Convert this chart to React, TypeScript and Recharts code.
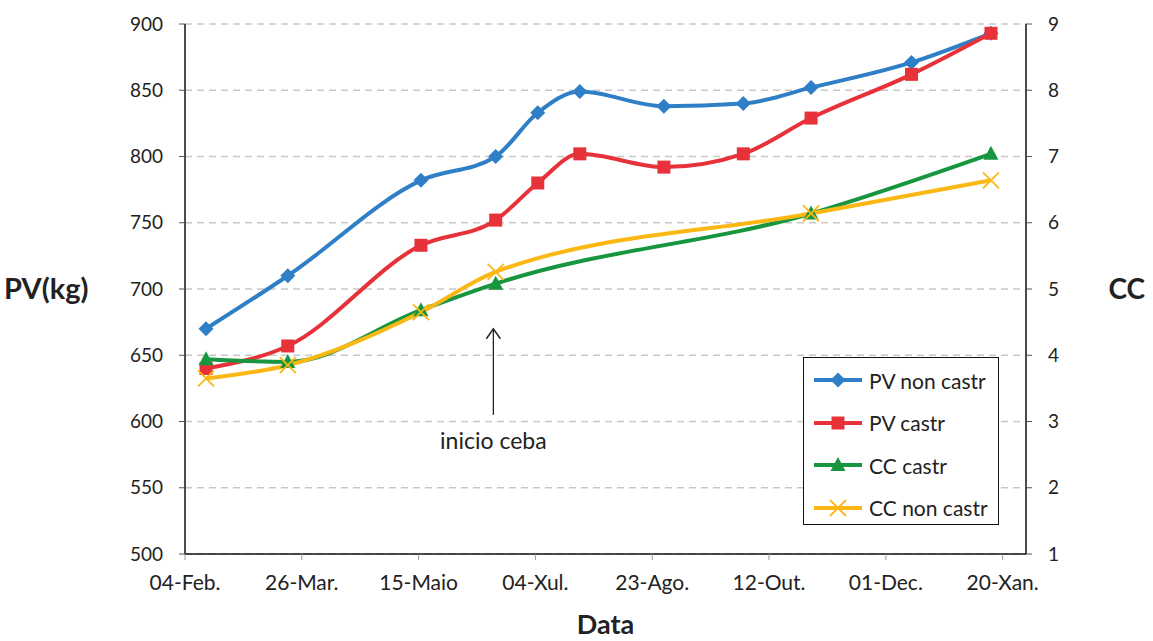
import React from "react";
import {
  LineChart,
  Line,
  XAxis,
  YAxis,
  CartesianGrid,
  ReferenceLine,
  Label,
} from "recharts";

// days counted from 04-Feb
const pvDays = [9, 44, 101, 133, 151, 169, 205, 239, 268, 311, 345];
const pvNonCastr = [670, 710, 782, 800, 833, 849, 838, 840, 852, 871, 893];
const pvCastr = [640, 657, 733, 752, 780, 802, 792, 802, 829, 862, 893];

const ccDays = [9, 44, 101, 133, 268, 345];
const ccCastr = [3.94, 3.9, 4.68, 5.08, 6.14, 7.04];
const ccNonCastr = [3.65, 3.85, 4.65, 5.26, 6.14, 6.64];

const xTicks = [0, 50, 100, 150, 200, 250, 300, 350];
const xTickLabels = ["04-Feb.", "26-Mar.", "15-Maio", "04-Xul.", "23-Ago.", "12-Out.", "01-Dec.", "20-Xan."];
const pvTicks = [500, 550, 600, 650, 700, 750, 800, 850, 900];
const ccTicks = [1, 2, 3, 4, 5, 6, 7, 8, 9];

const FONT = "Lato, 'Noto Sans', sans-serif";
const BLUE = "#2f7fc7";
const RED = "#e8323a";
const GREEN = "#17963f";
const YELLOW = "#fbb814";

const toRows = (days: number[], vals: number[]) => days.map((d, i) => ({ day: d, v: vals[i] }));

const diamond = (color: string) => (p: any) => (
  <polygon
    key={`d${p.index}`}
    points={`${p.cx},${p.cy - 7.5} ${p.cx + 7.5},${p.cy} ${p.cx},${p.cy + 7.5} ${p.cx - 7.5},${p.cy}`}
    fill={color}
  />
);
const square = (color: string) => (p: any) => (
  <rect key={`s${p.index}`} x={p.cx - 6.5} y={p.cy - 6.5} width={13} height={13} fill={color} />
);
const triangle = (color: string) => (p: any) => (
  <polygon
    key={`t${p.index}`}
    points={`${p.cx},${p.cy - 8} ${p.cx + 7.5},${p.cy + 6} ${p.cx - 7.5},${p.cy + 6}`}
    fill={color}
  />
);
const cross = (color: string) => (p: any) => (
  <path
    key={`x${p.index}`}
    d={`M${p.cx - 8},${p.cy - 8}L${p.cx + 8},${p.cy + 8}M${p.cx + 8},${p.cy - 8}L${p.cx - 8},${p.cy + 8}`}
    stroke={color}
    strokeWidth={1.8}
    fill="none"
  />
);

const series = [
  { name: "PV non castr", color: BLUE, axis: "left", data: toRows(pvDays, pvNonCastr), dot: diamond },
  { name: "PV castr", color: RED, axis: "left", data: toRows(pvDays, pvCastr), dot: square },
  { name: "CC castr", color: GREEN, axis: "right", data: toRows(ccDays, ccCastr), dot: triangle },
  { name: "CC non castr", color: YELLOW, axis: "right", data: toRows(ccDays, ccNonCastr), dot: cross },
];

const ArrowShape = (props: any) => {
  const { x1, y1, x2, y2 } = props;
  const top = Math.min(y1, y2);
  const bottom = Math.max(y1, y2);
  return (
    <g>
      <line x1={x1} y1={top} x2={x2} y2={bottom} stroke="#222" strokeWidth={1.3} />
      <path d={`M${x1 - 7},${top + 10}L${x1},${top}L${x1 + 7},${top + 10}`} stroke="#222" strokeWidth={1.5} fill="none" />
      <text x={x1} y={bottom + 34} textAnchor="middle" fontFamily={FONT} fontSize={23} fill="#222">
        inicio ceba
      </text>
    </g>
  );
};

export default function App() {
  return (
    <div style={{ position: "absolute", left: 0, top: 0, width: 1153, height: 641, background: "#fff" }}>
      <LineChart width={1153} height={641} margin={{ top: 24, right: 0, bottom: 0, left: 0 }}>
        <CartesianGrid yAxisId="left" vertical={false} stroke="#c8c8c8" strokeDasharray="7 5" strokeWidth={1.5} />
        <XAxis
          dataKey="day"
          type="number"
          domain={[0, 360]}
          ticks={xTicks}
          tickFormatter={(v: number) => xTickLabels[xTicks.indexOf(v)]}
          height={87}
          axisLine={{ stroke: "#111", strokeWidth: 1.5 }}
          tickLine={{ stroke: "#999" }}
          tickSize={6}
          tickMargin={15}
          tick={{ fill: "#222", fontSize: 21, fontFamily: FONT }}
          allowDuplicatedCategory={false}
        >
          <Label value="Data" position="insideBottom" offset={7} style={{ fontFamily: FONT, fontSize: 27, fontWeight: 700, fill: "#222" }} />
        </XAxis>
        <YAxis
          yAxisId="left"
          domain={[500, 900]}
          ticks={pvTicks}
          width={185}
          axisLine={{ stroke: "#111", strokeWidth: 1.5 }}
          tickLine={{ stroke: "#555" }}
          tickSize={6}
          tickMargin={16}
          tick={{ fill: "#222", fontSize: 19, fontFamily: FONT }}
        >
          <Label value="PV(kg)" position="insideLeft" offset={4} style={{ fontFamily: FONT, fontSize: 29, fontWeight: 700, fill: "#222", textAnchor: "start" }} />
        </YAxis>
        <YAxis
          yAxisId="right"
          orientation="right"
          domain={[1, 9]}
          ticks={ccTicks}
          width={127}
          axisLine={{ stroke: "#111", strokeWidth: 1.5 }}
          tickLine={{ stroke: "#555" }}
          tickSize={6}
          tickMargin={16}
          tick={{ fill: "#222", fontSize: 19, fontFamily: FONT }}
        >
          <Label value="CC" position="insideRight" offset={8} style={{ fontFamily: FONT, fontSize: 28, fontWeight: 700, fill: "#222", textAnchor: "end" }} />
        </YAxis>
        <ReferenceLine
          yAxisId="left"
          segment={[{ x: 132, y: 605 }, { x: 132, y: 670 }]}
          shape={ArrowShape}
          ifOverflow="visible"
        />
        {series.map((s) => (
          <Line
            key={s.name}
            name={s.name}
            yAxisId={s.axis}
            data={s.data}
            dataKey="v"
            type="monotone"
            stroke={s.color}
            strokeWidth={4}
            dot={s.dot(s.color)}
            activeDot={false}
            isAnimationActive={false}
          />
        ))}
      </LineChart>
      <div
        style={{
          position: "absolute",
          left: 803,
          top: 357,
          width: 196,
          height: 168,
          border: "1.5px solid #111",
          background: "#fff",
          boxSizing: "border-box",
          fontFamily: FONT,
          fontSize: 21,
          color: "#222",
        }}
      >
        {series.map((s, i) => (
          <div key={s.name} style={{ position: "absolute", left: 8, top: 9 + i * 42.5, height: 26, display: "flex", alignItems: "center", whiteSpace: "nowrap" }}>
            <svg width={52} height={20} style={{ marginRight: 5 }}>
              <line x1={2} y1={10} x2={50} y2={10} stroke={s.color} strokeWidth={4} />
              {s.dot(s.color)({ cx: 26, cy: 10, index: i })}
            </svg>
            <span>{s.name}</span>
          </div>
        ))}
      </div>
    </div>
  );
}
